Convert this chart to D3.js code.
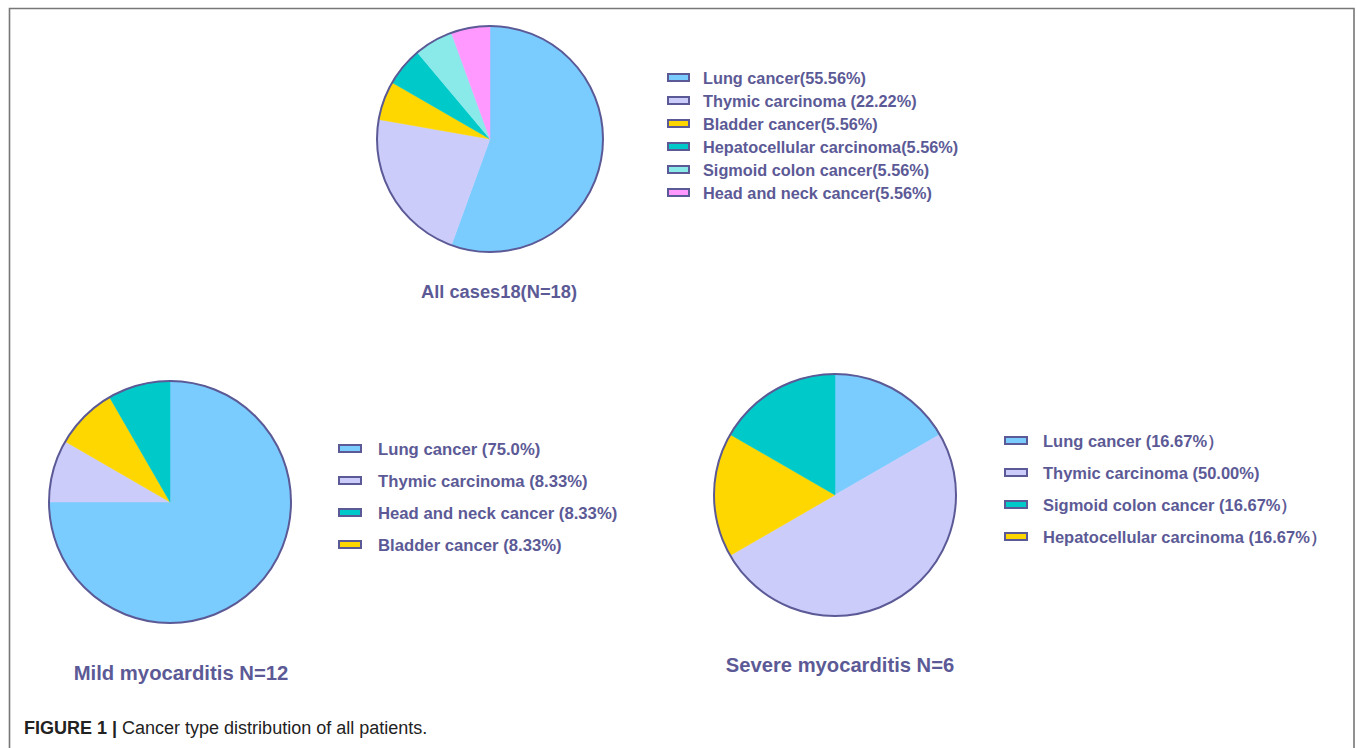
<!DOCTYPE html>
<html lang="en">
<head>
    <meta charset="UTF-8">
    <title>Cancer type distribution</title>
    <script src="https://cdn.jsdelivr.net/npm/d3@7"></script>
    <style>
        body { margin: 0; background: #fff; }
        text { font-family: 'Liberation Sans', Arial, sans-serif; }
        .lbl { font-weight: bold; fill: #5c5a96; }
    </style>
</head>
<body>
<svg id="chart" width="1357" height="748"></svg>
<script>
    // All cases, pie order (clockwise from 12 o'clock)
    const allLabels = ["Lung cancer(55.56%)", "Thymic carcinoma (22.22%)", "Bladder cancer(5.56%)",
                       "Hepatocellular carcinoma(5.56%)", "Sigmoid colon cancer(5.56%)", "Head and neck cancer(5.56%)"];
    const allValues = [55.56, 22.22, 5.56, 5.56, 5.56, 5.56];
    const allColors = ["#7accff", "#ccccfb", "#ffd700", "#00c9c9", "#8aeaea", "#ff99ff"];

    // Mild myocarditis: pie order / legend order differ
    const mildLabels = ["Lung cancer (75.0%)", "Thymic carcinoma (8.33%)", "Bladder cancer (8.33%)", "Head and neck cancer (8.33%)"];
    const mildValues = [75.0, 8.33, 8.33, 8.33];
    const mildColors = ["#7accff", "#ccccfb", "#ffd700", "#00c9c9"];
    const mildLegendOrder = [0, 1, 3, 2];

    // Severe myocarditis
    const sevLabels = ["Lung cancer (16.67%\uff09", "Thymic carcinoma (50.00%)", "Hepatocellular carcinoma (16.67%\uff09", "Sigmoid colon cancer (16.67%\uff09"];
    const sevValues = [16.67, 50.00, 16.67, 16.67];
    const sevColors = ["#7accff", "#ccccfb", "#ffd700", "#00c9c9"];
    const sevLegendOrder = [0, 1, 3, 2];

    const svg = d3.select("#chart");
    const stroke = "#5c5a96";

    // frame
    svg.append("path")
        .attr("d", "M9.5,748 V8.5 H1354 V748")
        .attr("fill", "none").attr("stroke", "#777").attr("stroke-width", 1.6);

    function drawPie(cfg) {
        const g = svg.append("g").attr("transform", `translate(${cfg.cx},${cfg.cy})`);
        const pie = d3.pie().sort(null).value(d => d.v);
        const arc = d3.arc().innerRadius(0).outerRadius(cfg.r);
        const data = cfg.values.map((v, i) => ({v, c: cfg.colors[i], label: cfg.labels[i]}));
        g.selectAll("path.slice")
            .data(pie(data)).join("path")
            .attr("class", "slice")
            .attr("d", arc)
            .attr("fill", d => d.data.c)
            .attr("stroke", d => d.data.c)
            .attr("stroke-width", 0.5);
        g.append("circle").attr("r", cfg.r)
            .attr("fill", "none").attr("stroke", stroke).attr("stroke-width", 2);

        // legend
        const order = cfg.order || data.map((d, i) => i);
        const leg = svg.append("g");
        const rows = leg.selectAll("g").data(order.map(i => data[i])).join("g")
            .attr("transform", (d, i) => `translate(${cfg.lx},${cfg.ly + i * cfg.lstep})`);
        rows.append("rect")
            .attr("x", 0).attr("y", -4).attr("width", cfg.sw).attr("height", 7)
            .attr("fill", d => d.c).attr("stroke", stroke).attr("stroke-width", 2);
        rows.append("text").attr("class", "lbl")
            .attr("x", cfg.tx).attr("y", 6)
            .style("font-size", cfg.lsize)
            .text(d => d.label);

        svg.append("text").attr("class", "lbl")
            .attr("x", cfg.titleX).attr("y", cfg.titleY)
            .attr("text-anchor", "middle")
            .style("font-size", cfg.titleSize)
            .text(cfg.title);
    }

    drawPie({cx: 490, cy: 139, r: 113, values: allValues, colors: allColors, labels: allLabels,
             lx: 668, ly: 78, lstep: 23, sw: 21, tx: 35, lsize: "16.3px",
             title: "All cases18(N=18)", titleX: 499, titleY: 298, titleSize: "18.3px"});

    drawPie({cx: 170, cy: 502, r: 121, values: mildValues, colors: mildColors, labels: mildLabels, order: mildLegendOrder,
             lx: 339, ly: 449, lstep: 32, sw: 22, tx: 39, lsize: "16.7px",
             title: "Mild myocarditis N=12", titleX: 181, titleY: 680, titleSize: "20.3px"});

    drawPie({cx: 835, cy: 495, r: 121, values: sevValues, colors: sevColors, labels: sevLabels, order: sevLegendOrder,
             lx: 1005, ly: 441, lstep: 32, sw: 22, tx: 38, lsize: "16.5px",
             title: "Severe myocarditis N=6", titleX: 840, titleY: 672, titleSize: "20.2px"});

    // caption
    const cap = svg.append("text").attr("x", 24).attr("y", 734)
        .style("font-size", "18px").attr("fill", "#222");
    cap.append("tspan").style("font-weight", "bold").text("FIGURE 1 | ");
    cap.append("tspan").text("Cancer type distribution of all patients.");
</script>
</body>
</html>
